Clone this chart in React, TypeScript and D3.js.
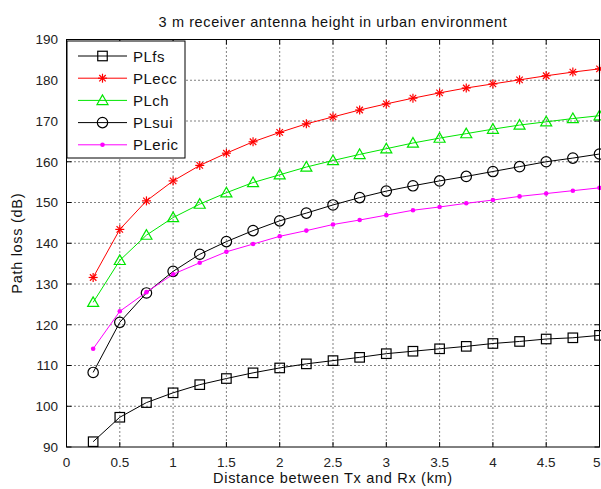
import React from "react";
import * as d3 from "d3";

const distances = [0.25, 0.5, 0.75, 1, 1.25, 1.5, 1.75, 2, 2.25, 2.5, 2.75, 3, 3.25, 3.5, 3.75, 4, 4.25, 4.5, 4.75, 5];
const plFs = [91.3, 97.3, 100.9, 103.3, 105.3, 106.8, 108.2, 109.4, 110.4, 111.2, 112.0, 112.9, 113.5, 114.1, 114.7, 115.4, 115.9, 116.5, 116.8, 117.4];
const plEcc = [131.6, 143.4, 150.4, 155.3, 159.1, 162.1, 164.9, 167.2, 169.3, 171.0, 172.7, 174.2, 175.6, 176.9, 178.1, 179.1, 180.1, 181.1, 182.0, 182.8];
const plCh = [125.5, 135.8, 142.0, 146.3, 149.6, 152.4, 154.9, 156.8, 158.7, 160.3, 161.8, 163.2, 164.6, 165.8, 166.9, 168.0, 169.0, 169.8, 170.6, 171.3];
const plSui = [108.3, 120.6, 127.8, 133.1, 137.3, 140.4, 143.1, 145.5, 147.4, 149.4, 151.2, 152.8, 154.1, 155.3, 156.4, 157.6, 158.8, 160.0, 160.9, 161.9];
const plEric = [114.1, 123.3, 128.0, 132.4, 135.2, 137.9, 139.8, 141.7, 143.1, 144.6, 145.7, 146.9, 148.1, 148.9, 149.8, 150.6, 151.5, 152.2, 152.9, 153.6];

const seriesNames = ["PLfs", "PLecc", "PLch", "PLsui", "PLeric"];
const seriesValues = [plFs, plEcc, plCh, plSui, plEric];
const seriesColors = ["#000000", "#ff0000", "#00e600", "#000000", "#ff00ff"];
const seriesMarkers = ["square", "star", "triangle", "circle", "dot"];

const xTicks = [0, 0.5, 1, 1.5, 2, 2.5, 3, 3.5, 4, 4.5, 5];
const yTicks = [90, 100, 110, 120, 130, 140, 150, 160, 170, 180, 190];

const W = 601;
const H = 489;
const left = 66.5;
const right = 599.5;
const top = 39.5;
const bottom = 447;
const FONT = "'Liberation Sans', Arial, Helvetica, sans-serif";

function Marker({ type, x, y, color }: { type: string; x: number; y: number; color: string }) {
  if (type === "square") {
    const s = 9.5;
    return <rect x={x - s / 2} y={y - s / 2} width={s} height={s} fill="none" stroke={color} strokeWidth={1.2} />;
  }
  if (type === "circle") {
    return <circle cx={x} cy={y} r={5.2} fill="none" stroke={color} strokeWidth={1.2} />;
  }
  if (type === "triangle") {
    const r = 5.5;
    const pts = [[x, y - r], [x - r, y + r * 0.75], [x + r, y + r * 0.75]].map((p) => p.join(",")).join(" ");
    return <polygon points={pts} fill="none" stroke={color} strokeWidth={1.2} />;
  }
  if (type === "star") {
    const r = 4.5;
    const d = r * 0.72;
    return (
      <g stroke={color} strokeWidth={1.2}>
        <line x1={x - r} y1={y} x2={x + r} y2={y} />
        <line x1={x} y1={y - r} x2={x} y2={y + r} />
        <line x1={x - d} y1={y - d} x2={x + d} y2={y + d} />
        <line x1={x - d} y1={y + d} x2={x + d} y2={y - d} />
      </g>
    );
  }
  return <circle cx={x} cy={y} r={2.3} fill={color} stroke="none" />;
}

export default function App() {
  const x = d3.scaleLinear().domain([0, 5]).range([left, right]);
  const y = d3.scaleLinear().domain([90, 190]).range([bottom, top]);
  const line = d3
    .line<[number, number]>()
    .x((d) => x(d[0]))
    .y((d) => y(d[1]));

  const legX = 67;
  const legY = 41;
  const legW = 118;
  const legH = 117;

  return (
    <svg width={W} height={H} style={{ position: "absolute", left: 0, top: 0, background: "#fff" }} fontFamily={FONT}>
      <rect x={0} y={0} width={W} height={H} fill="#fff" />
      {/* grid */}
      {xTicks.slice(1, -1).map((t) => (
        <line key={"gx" + t} x1={x(t)} x2={x(t)} y1={top} y2={bottom} stroke="#000" strokeWidth={1} strokeDasharray="1,3" />
      ))}
      {yTicks.slice(1, -1).map((t) => (
        <line key={"gy" + t} x1={left} x2={right} y1={y(t)} y2={y(t)} stroke="#000" strokeWidth={1} strokeDasharray="1,3" />
      ))}
      {/* ticks */}
      {xTicks.map((t, i) => (
        <g key={"tx" + t}>
          <line x1={x(t)} x2={x(t)} y1={bottom} y2={bottom - 5} stroke="#000" />
          <line x1={x(t)} x2={x(t)} y1={top} y2={top + 5} stroke="#000" />
          <text
            x={i === xTicks.length - 1 ? 600.5 : x(t)}
            y={466.5}
            textAnchor={i === xTicks.length - 1 ? "end" : "middle"}
            fontSize={13.5}
            fill="#222"
          >
            {t}
          </text>
        </g>
      ))}
      {yTicks.map((t) => (
        <g key={"ty" + t}>
          <line x1={left} x2={left + 5} y1={y(t)} y2={y(t)} stroke="#000" />
          <line x1={right} x2={right - 5} y1={y(t)} y2={y(t)} stroke="#000" />
          <text x={58} y={y(t) + 4.8} textAnchor="end" fontSize={13.5} fill="#222">
            {t}
          </text>
        </g>
      ))}
      {/* series */}
      {seriesValues.map((vals, i) => {
        const pts: [number, number][] = distances.map((d, j) => [d, vals[j]]);
        return (
          <g key={seriesNames[i]}>
            <path d={line(pts) || ""} fill="none" stroke={seriesColors[i]} strokeWidth={1} />
            {pts.map((p, j) => (
              <Marker key={j} type={seriesMarkers[i]} x={x(p[0])} y={y(p[1])} color={seriesColors[i]} />
            ))}
          </g>
        );
      })}
      {/* axes box */}
      <rect x={left} y={top} width={right - left} height={bottom - top} fill="none" stroke="#000" strokeWidth={1} />
      {/* legend */}
      <rect x={legX} y={legY} width={legW} height={legH} fill="#fff" stroke="#000" strokeWidth={1} />
      {seriesNames.map((n, i) => {
        const ly = 56 + i * 22.2;
        return (
          <g key={"leg" + n}>
            <line x1={78} x2={127} y1={ly} y2={ly} stroke={seriesColors[i]} strokeWidth={1} />
            <Marker type={seriesMarkers[i]} x={102.5} y={ly} color={seriesColors[i]} />
            <text x={133} y={ly + 5.5} fontSize={15} letterSpacing={0.5} fill="#111">
              {n}
            </text>
          </g>
        );
      })}
      {/* title and labels */}
      <text x={(left + right) / 2} y={27} textAnchor="middle" fontSize={14.5} letterSpacing={0.6} fill="#111">
        3 m receiver antenna height in urban environment
      </text>
      <text x={(left + right) / 2} y={483} textAnchor="middle" fontSize={14.5} letterSpacing={0.7} fill="#111">
        Distance between Tx and Rx (km)
      </text>
      <text
        transform={`translate(22,${(top + bottom) / 2}) rotate(-90)`}
        textAnchor="middle"
        fontSize={14.5}
        letterSpacing={0.7}
        fill="#111"
      >
        Path loss (dB)
      </text>
    </svg>
  );
}
